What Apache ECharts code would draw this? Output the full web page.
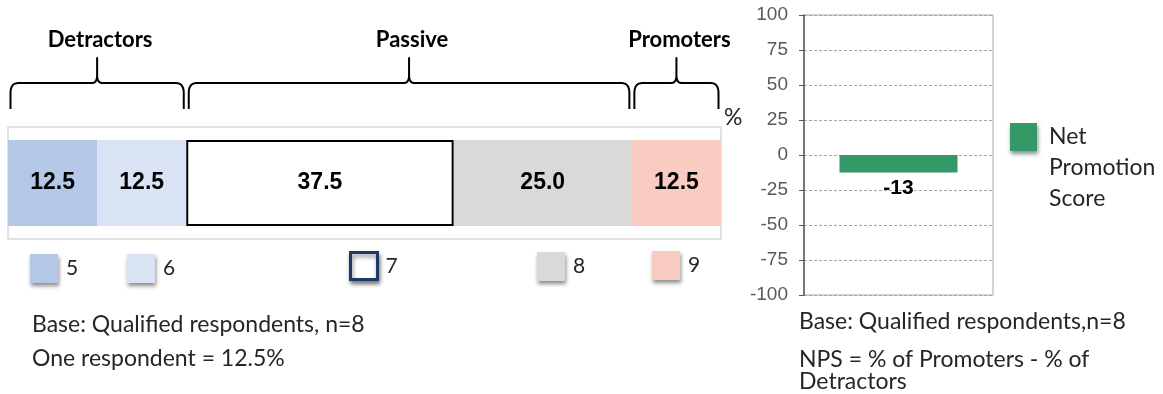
<!DOCTYPE html>
<html><head><meta charset="utf-8">
<script src="https://cdn.jsdelivr.net/npm/echarts@6/dist/echarts.min.js"></script>
<style>html,body{margin:0;padding:0;background:#fff}#c{width:1163px;height:394px}</style>
</head><body><div id="c"></div>
<script>
// ---- data ----
const scoreLabels = ['5', '6', '7', '8', '9'];
const scorePct = [12.5, 12.5, 37.5, 25.0, 12.5];
const groupNames = ['Detractors', 'Passive', 'Promoters'];
const groupFirst = [0, 2, 4];
const groupLast = [1, 3, 4];
const npsCategories = ['Net Promotion Score'];
const npsValues = [-12.5];
const npsAxisMin = -100, npsAxisMax = 100, npsAxisStep = 25;
const leftNotes = ['Base: Qualified respondents, n=8', 'One respondent = 12.5%'];
const rightNotes = ['Base: Qualified respondents,n=8', 'NPS = % of Promoters - % of', 'Detractors'];
const unitLabel = '%';

// ---- styles / layout ----
const scoreColors = ['#B4C7E7', '#DAE3F3', '#FFFFFF', '#D9D9D9', '#F8CCC0'];
const legendLeft = [30, 127, 349, 537, 652];
const legendTop = [254, 254, 251, 252, 251];
const npsColor = '#339966';
const calibri = 'Lato, Carlito, Calibri, sans-serif';
const arial = '"Liberation Sans", Arial, sans-serif';
const G0 = {left: 8, top: 127, width: 713, height: 112};
const shadow = {shadowColor: 'rgba(0,0,0,0.45)', shadowBlur: 4, shadowOffsetX: 1, shadowOffsetY: 3};

const chart = echarts.init(document.getElementById('c'), null, {renderer: 'canvas'});

const leftSeries = scoreLabels.map((s, i) => ({
  type: 'bar', name: s, stack: 'dist', xAxisIndex: 0, yAxisIndex: 0,
  barWidth: 86, z: i === 2 ? 3 : 2,
  data: [scorePct[i]],
  itemStyle: {color: scoreColors[i], borderColor: '#000', borderWidth: i === 2 ? 2 : 0},
  label: {show: true, position: 'inside', formatter: p => p.value.toFixed(1),
    fontFamily: arial, fontWeight: 'bold', fontSize: 23, color: '#000'},
  emphasis: {disabled: true}
}));

const leftLegends = scoreLabels.map((s, i) => ({
  left: legendLeft[i], top: legendTop[i], padding: 0, icon: 'rect',
  itemWidth: i === 2 ? 27 : 28, itemHeight: i === 2 ? 27 : 29,
  selectedMode: false,
  data: [{name: s, itemStyle: i === 2 ? {color: '#fff', borderColor: '#1F3864', borderWidth: 3} : {}}],
  itemStyle: shadow,
  textStyle: {fontFamily: calibri, fontSize: 21, color: '#262626', padding: [0, 0, 0, 3]}
}));

const option = {
  animation: false,
  backgroundColor: '#fff',
  grid: [
    Object.assign({show: true, borderColor: '#D9D9D9', borderWidth: 1.5, containLabel: false}, G0),
    {left: 804, top: 15, width: 189, height: 280, show: true, borderColor: '#A6A6A6', borderWidth: 1}
  ],
  xAxis: [
    {gridIndex: 0, type: 'value', min: 0, max: 100, show: false},
    {gridIndex: 1, type: 'category', data: npsCategories, show: false}
  ],
  yAxis: [
    {gridIndex: 0, type: 'category', data: [unitLabel], show: false},
    {gridIndex: 1, type: 'value', min: npsAxisMin, max: npsAxisMax, interval: npsAxisStep,
      axisLine: {show: true, lineStyle: {color: '#595959', width: 1.5}},
      axisTick: {show: true, length: 5, lineStyle: {color: '#595959'}},
      axisLabel: {fontFamily: arial, fontSize: 19, color: '#595959', margin: 16},
      splitLine: {show: true, lineStyle: {color: '#A6A6A6', type: [3, 2], width: 1}}}
  ],
  legend: leftLegends.concat([{
    left: 1010, top: 59.5, padding: 0, itemWidth: 27, itemHeight: 28, selectedMode: false, icon: 'rect',
    data: [npsCategories[0]],
    formatter: () => ' \n \nNet\nPromotion\nScore',
    itemStyle: shadow,
    textStyle: {fontFamily: calibri, fontSize: 23, lineHeight: 31, color: '#262626', padding: [0, 0, 0, 7]}
  }]),
  series: leftSeries.concat([{
    type: 'bar', name: npsCategories[0], xAxisIndex: 1, yAxisIndex: 1,
    barWidth: 118, data: npsValues,
    itemStyle: {color: npsColor},
    label: {show: true, position: 'outside', distance: 5,
      formatter: p => String(Math.sign(p.value) * Math.round(Math.abs(p.value))),
      fontFamily: arial, fontWeight: 'bold', fontSize: 21, color: '#000'},
    emphasis: {disabled: true}
  }])
};
chart.setOption(option);

// ---- braces, group labels and notes ----
const starts = [];
scorePct.reduce((acc, v, i) => { starts[i] = acc; return acc + v; }, 0);
const px = v => chart.convertToPixel({xAxisIndex: 0}, v);
const yb = G0.top - 18, yh = G0.top - 44, yt = G0.top - 69, yl = G0.top - 87;
function quad(p0, c, p1, n) {
  const out = [];
  for (let k = 1; k <= n; k++) {
    const t = k / n, u = 1 - t;
    out.push([u * u * p0[0] + 2 * u * t * c[0] + t * t * p1[0], u * u * p0[1] + 2 * u * t * c[1] + t * t * p1[1]]);
  }
  return out;
}
const graphics = [];
groupNames.forEach((name, g) => {
  const x1 = px(starts[groupFirst[g]]) + 2.5;
  const x2 = px(starts[groupLast[g]] + scorePct[groupLast[g]]) - 2.5;
  const xm = (x1 + x2) / 2;
  let pts = [[x1, yb], [x1, yh + 10]];
  pts = pts.concat(quad([x1, yh + 10], [x1, yh], [x1 + 8, yh], 8));
  pts.push([xm - 5, yh]);
  pts = pts.concat(quad([xm - 5, yh], [xm, yh], [xm, yh - 8], 6));
  pts.push([xm, yt]);
  pts.push([xm, yh - 8]);
  pts = pts.concat(quad([xm, yh - 8], [xm, yh], [xm + 5, yh], 6));
  pts.push([x2 - 8, yh]);
  pts = pts.concat(quad([x2 - 8, yh], [x2, yh], [x2, yh + 10], 8));
  pts.push([x2, yb]);
  graphics.push({type: 'polyline', shape: {points: pts}, style: {fill: null, stroke: '#000', lineWidth: 2, lineJoin: 'round'}, z: 10});
  graphics.push({type: 'text', x: xm + 3, y: yl, style: {text: name, font: `bold 22px ${calibri}`, fill: '#000',
    align: 'center', verticalAlign: 'middle'}, z: 10});
});
graphics.push({type: 'text', x: G0.left + G0.width + 3, y: G0.top - 9,
  style: {text: unitLabel, font: `23px ${calibri}`, fill: '#262626', align: 'left', verticalAlign: 'middle'}});
const leftY = [325, 359];
leftNotes.forEach((t, i) => graphics.push({type: 'text', x: 32, y: leftY[i],
  style: {text: t, font: `23px ${calibri}`, fill: '#262626', verticalAlign: 'middle'}}));
const rightY = [322, 360, 382];
rightNotes.forEach((t, i) => graphics.push({type: 'text', x: 799, y: rightY[i],
  style: {text: t, font: `23px ${calibri}`, fill: '#262626', verticalAlign: 'middle'}}));
chart.setOption({graphic: graphics});
</script></body></html>
